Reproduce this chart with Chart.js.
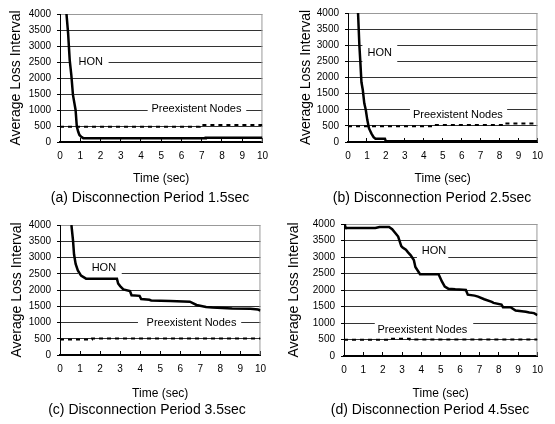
<!DOCTYPE html>
<html>
<head>
<meta charset="utf-8">
<script src="https://cdn.jsdelivr.net/npm/chart.js@4.4.0/dist/chart.umd.min.js"></script>
<style>
  body { margin: 0; background: #fff; width: 555px; height: 424px; position: relative; overflow: hidden; }
  canvas { position: absolute; }
  .cap { position: absolute; font: 14px "Liberation Sans", Arial, sans-serif; color: #000; text-align: center; white-space: nowrap; line-height: 16px; }
</style>
</head>
<body>
<canvas id="pa" width="280" height="190" style="left:0;top:0"></canvas>
<canvas id="pb" width="277" height="190" style="left:278px;top:0"></canvas>
<canvas id="pc" width="278" height="200" style="left:0;top:210px"></canvas>
<canvas id="pd" width="277" height="200" style="left:278px;top:210px"></canvas>
<div class="cap" style="left:50px;width:200px;top:189px">(a) Disconnection Period 1.5sec</div>
<div class="cap" style="left:332px;width:200px;top:189px">(b) Disconnection Period 2.5sec</div>
<div class="cap" style="left:47px;width:200px;top:401px">(c) Disconnection Period 3.5sec</div>
<div class="cap" style="left:330px;width:200px;top:401px">(d) Disconnection Period 4.5sec</div>
<script>
'use strict';

// (a) disconnection 1.5 sec
var honTimeA = [0.32, 0.40, 0.48, 0.56, 0.64, 0.77, 0.83, 0.90, 0.96, 1.05, 1.15, 7.2, 7.2, 10];
var honA     = [4000, 3400, 2560, 2090, 1470, 1000, 480, 320, 220, 160, 120, 120, 135, 135];
var preTimeA = [0, 6.9, 6.9, 10];
var preA     = [480, 480, 530, 530];

// (b) disconnection 2.5 sec
var honTimeB = [0.53, 0.60, 0.65, 0.71, 0.78, 0.86, 0.94, 1.02, 1.11, 1.24, 1.35, 1.45, 1.95, 2.0, 10];
var honB     = [4000, 3000, 2500, 1850, 1620, 1200, 990, 680, 420, 260, 150, 100, 100, 20, 20];
var preTimeB = [0, 4.5, 4.5, 8.3, 8.3, 10];
var preB     = [490, 490, 525, 525, 570, 570];

// (c) disconnection 3.5 sec
var honTimeC = [0.57, 0.65, 0.70, 0.78, 0.89, 1.05, 1.30, 2.84, 2.90, 3.00, 3.16, 3.49, 3.57, 3.97, 4.05, 4.46, 4.55, 5.5, 6.48, 6.81, 7.29, 7.6, 8.59, 9.5, 9.88, 10];
var honC     = [4000, 3520, 3100, 2800, 2600, 2440, 2350, 2350, 2200, 2120, 2020, 1970, 1840, 1820, 1720, 1700, 1680, 1660, 1640, 1540, 1480, 1460, 1430, 1420, 1400, 1370];
var preTimeC = [0, 1.6, 1.6, 10];
var preC     = [480, 480, 510, 510];

// (d) disconnection 4.5 sec
var honTimeD = [0, 0.05, 0.1, 1.62, 1.84, 2.33, 2.49, 2.63, 2.80, 2.96, 3.03, 3.20, 3.31, 3.45, 3.61, 3.69, 3.93, 4.89, 5.06, 5.21, 5.39, 5.75, 6.30, 6.40, 6.75, 6.93, 7.25, 7.64, 7.73, 8.14, 8.22, 8.61, 8.87, 9.40, 9.58, 9.82, 10];
var honD     = [4000, 3950, 3880, 3880, 3910, 3910, 3840, 3740, 3620, 3330, 3290, 3220, 3140, 3050, 2910, 2700, 2480, 2480, 2260, 2100, 2040, 2020, 2000, 1860, 1830, 1800, 1720, 1640, 1610, 1560, 1480, 1480, 1380, 1340, 1320, 1300, 1240];
var preTimeD = [0, 2.4, 2.4, 3.4, 3.4, 10];
var preD     = [490, 490, 520, 520, 500, 500];

// in-plot labels: text anchor [t, value], white box [t0, t1, v0, v1]
var notesA = [{ text: 'HON', at: [1.52, 2500], box: [0.45, 2.4, 2350, 2650] },
              { text: 'Preexistent Nodes', at: [6.74, 1020], box: [4.33, 9.2, 850, 1180] }];
var notesB = [{ text: 'HON', at: [1.68, 2750], box: [0.76, 2.6, 2420, 3080] },
              { text: 'Preexistent Nodes', at: [5.8, 830], box: [3.27, 8.4, 680, 1080] }];
var notesC = [{ text: 'HON', at: [2.19, 2680], box: [0.9, 3.08, 2440, 2880] },
              { text: 'Preexistent Nodes', at: [6.56, 980], box: [3.89, 9.04, 830, 1150] }];
var notesD = [{ text: 'HON', at: [4.65, 3180], box: [3.77, 5.39, 2950, 3400] },
              { text: 'Preexistent Nodes', at: [4.05, 790], box: [1.59, 6.68, 640, 1080] }];

var FONT = '"Liberation Sans", Arial, sans-serif';
Chart.defaults.font.family = FONT;
Chart.defaults.color = '#000';

function pts(t, v) {
  return t.map(function (x, i) { return { x: x, y: v[i] }; });
}

function notePlugin(notes) {
  return {
    id: 'notes',
    beforeDatasetsDraw: function (chart) {
      var xs = chart.scales.x, ys = chart.scales.y, ctx = chart.ctx, area = chart.chartArea;
      ctx.save();
      // grey frame on the right
      ctx.strokeStyle = '#999';
      ctx.lineWidth = 1;
      ctx.beginPath();
      ctx.moveTo(area.right - 0.5, area.top);
      ctx.lineTo(area.right - 0.5, area.bottom);
      ctx.stroke();
      notes.forEach(function (n) {
        var x0 = xs.getPixelForValue(n.box[0]), x1 = xs.getPixelForValue(n.box[1]);
        var y0 = ys.getPixelForValue(n.box[3]), y1 = ys.getPixelForValue(n.box[2]);
        ctx.fillStyle = '#fff';
        ctx.fillRect(x0, y0, x1 - x0, y1 - y0);
        ctx.fillStyle = '#000';
        ctx.font = '11px ' + FONT;
        ctx.textAlign = 'center';
        ctx.textBaseline = 'middle';
        ctx.fillText(n.text, xs.getPixelForValue(n.at[0]), ys.getPixelForValue(n.at[1]));
      });
      ctx.restore();
    }
  };
}

function makePanel(id, hon, pre, notes, g) {
  new Chart(document.getElementById(id), {
    type: 'line',
    data: {
      datasets: [
        { data: hon, borderColor: '#000', borderWidth: 2.5, pointRadius: 0, fill: false, tension: 0 },
        { data: pre, borderColor: '#000', borderWidth: 2, borderDash: [4, 4], pointRadius: 0, fill: false, tension: 0 }
      ]
    },
    options: {
      responsive: false,
      animation: false,
      layout: { padding: { left: 0, top: g.padT, right: g.padR, bottom: 0 } },
      plugins: { legend: { display: false }, tooltip: { enabled: false } },
      scales: {
        x: {
          type: 'linear', min: 0, max: 10,
          ticks: { stepSize: 1, autoSkip: false, maxRotation: 0, padding: 12, font: { size: 10 },
                   callback: function (v) { return String(v); } },
          grid: { drawOnChartArea: false, tickLength: -4, tickColor: '#000' },
          border: { color: '#000', width: 2 },
          title: { display: true, text: 'Time (sec)', font: { size: 12 }, padding: { top: 0, bottom: g.tPad } },
          afterFit: function (s) { s.height = g.xH; }
        },
        y: {
          min: 0, max: 4000,
          ticks: { stepSize: 500, padding: 6, font: { size: 10 },
                   callback: function (v) { return String(v); } },
          grid: {
            color: function (c) { return c.tick && c.tick.value === 4000 ? '#999' : '#333'; },
            tickLength: 3, tickColor: '#000'
          },
          border: { color: '#000', width: 1 },
          title: { display: true, text: 'Average Loss Interval', font: { size: 14 }, padding: { top: g.yPad, bottom: 0 } },
          afterFit: function (s) { s.width = g.yW; }
        }
      }
    },
    plugins: [notePlugin(notes)]
  });
}

makePanel('pa', pts(honTimeA, honA), pts(preTimeA, preA), notesA, { padT: 14, padR: 12, yW: 60, xH: 48, tPad: 4, yPad: 8 });
makePanel('pb', pts(honTimeB, honB), pts(preTimeB, preB), notesB, { padT: 13, padR: 6, yW: 70, xH: 48, tPad: 4, yPad: 20 });
makePanel('pc', pts(honTimeC, honC), pts(preTimeC, preC), notesC, { padT: 15, padR: 12, yW: 60, xH: 55, tPad: 9, yPad: 9 });
makePanel('pd', pts(honTimeD, honD), pts(preTimeD, preD), notesD, { padT: 14, padR: 5, yW: 66, xH: 54, tPad: 9, yPad: 8 });
</script>
</body>
</html>
